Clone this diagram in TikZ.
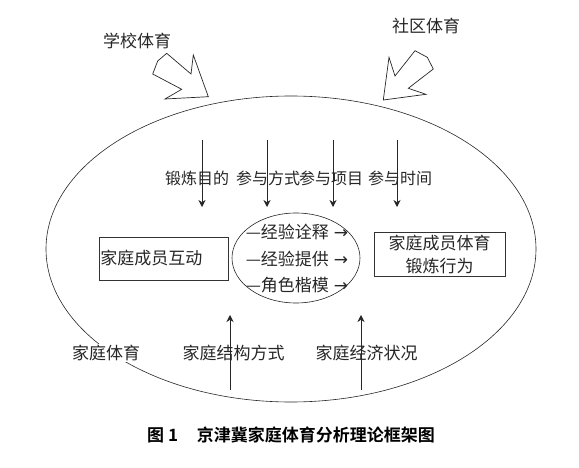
\documentclass[tikz,border=0pt]{standalone}
\usepackage{fontspec}
\newfontfamily\cjk{Noto Sans CJK SC}[BoldFont={Noto Sans CJK SC Bold}]
\newfontfamily\symfont{DejaVu Sans}
\usetikzlibrary{arrows.meta,shapes.geometric}

\begin{document}
\begin{tikzpicture}[x=1pt,y=-1pt,
  txt/.style={font=\cjk\fontsize{17}{23}\selectfont, inner sep=0pt, text=black!85},
  toptxt/.style={font=\cjk\fontsize{16}{19}\selectfont, inner sep=0pt, text=black!85},
  boxnode/.style={draw=black!80, line width=0.6pt, inner sep=1pt, font=\cjk\fontsize{17}{23}\selectfont, text=black!85},
  ring/.style={draw=black!85, line width=0.6pt, ellipse, inner sep=0pt},
  darr/.style={-{Stealth[length=7pt,width=7pt]}, line width=0.6pt, black!85},
  bigarr/.style={draw=black!85, line width=0.7pt, line join=miter}
]
  \useasboundingbox (0,0) rectangle (579,468);

  %% outer and inner ellipse
  \node[ring, minimum width=490pt, minimum height=306pt] (family) at (291,249) {};
  \node[ring, minimum width=128pt, minimum height=90pt] (mech) at (296,258) {};

  %% block arrows from school and community
  \draw[bigarr] (166.7,53.3) -- (157.7,61) -- (152.7,74) -- (181.7,89.3) -- (165,99)
    -- (208.3,96.7) -- (193.3,55) -- (191,74) -- cycle;
  \draw[bigarr] (415,50.7) -- (427.3,57.3) -- (433.3,69) -- (408.3,88.3) -- (426,94.3)
    -- (383.3,100) -- (389,57.3) -- (395,76) -- cycle;
  \node[txt] (school) at (137,41) {学校体育};
  \node[txt] (community) at (426,26) {社区体育};

  %% top inputs
  \coordinate (mudi-s) at (202,140);    \coordinate (mudi-e) at (202,207);
  \coordinate (fangshi-s) at (267,140); \coordinate (fangshi-e) at (267,207);
  \coordinate (xiangmu-s) at (333,140); \coordinate (xiangmu-e) at (333,207);
  \coordinate (shijian-s) at (397,140); \coordinate (shijian-e) at (397,207);
  \draw[darr] (mudi-s) -- (mudi-e);
  \draw[darr] (fangshi-s) -- (fangshi-e);
  \draw[darr] (xiangmu-s) -- (xiangmu-e);
  \draw[darr] (shijian-s) -- (shijian-e);
  \node[toptxt] (mudi) at (197,178) {锻炼目的};
  \node[toptxt] (fangshi) at (268,178) {参与方式};
  \node[toptxt] (xiangmu) at (331,178) {参与项目};
  \node[toptxt] (shijian) at (400,178) {参与时间};

  %% boxes
  \node[boxnode, anchor=west, text width=127pt, minimum height=43pt] (hudong) at (99,258.5) {家庭成员互动};
  \node[boxnode, align=center, minimum width=131pt, minimum height=44pt] (xingwei) at (439.5,254) {家庭成员体育\\锻炼行为};

  %% mechanisms
  \node[txt] (quanshi) at (297,232) {—经验诠释\hspace{5pt}{\symfont →}};
  \node[txt] (tigong) at (297,259) {—经验提供\hspace{5pt}{\symfont →}};
  \node[txt] (kaimo) at (297,285) {—角色楷模\hspace{5pt}{\symfont →}};

  %% bottom inputs
  \coordinate (jiegou-s) at (230,390); \coordinate (jiegou-e) at (230,315);
  \coordinate (jingji-s) at (361,390); \coordinate (jingji-e) at (361,315);
  \draw[darr] (jiegou-s) -- (jiegou-e);
  \draw[darr] (jingji-s) -- (jingji-e);
  \node[txt, fill=white, inner sep=1pt] (tiyu) at (106,353) {家庭体育};
  \node[txt] (jiegou) at (233.5,353) {家庭结构方式};
  \node[txt] (jingji) at (366.5,353) {家庭经济状况};

  %% caption
  \node[txt, font=\cjk\bfseries\fontsize{17}{20}\selectfont, text=black] (caption) at (291,435) {图 1\hspace{1.1em}京津冀家庭体育分析理论框架图};
\end{tikzpicture}
\end{document}
